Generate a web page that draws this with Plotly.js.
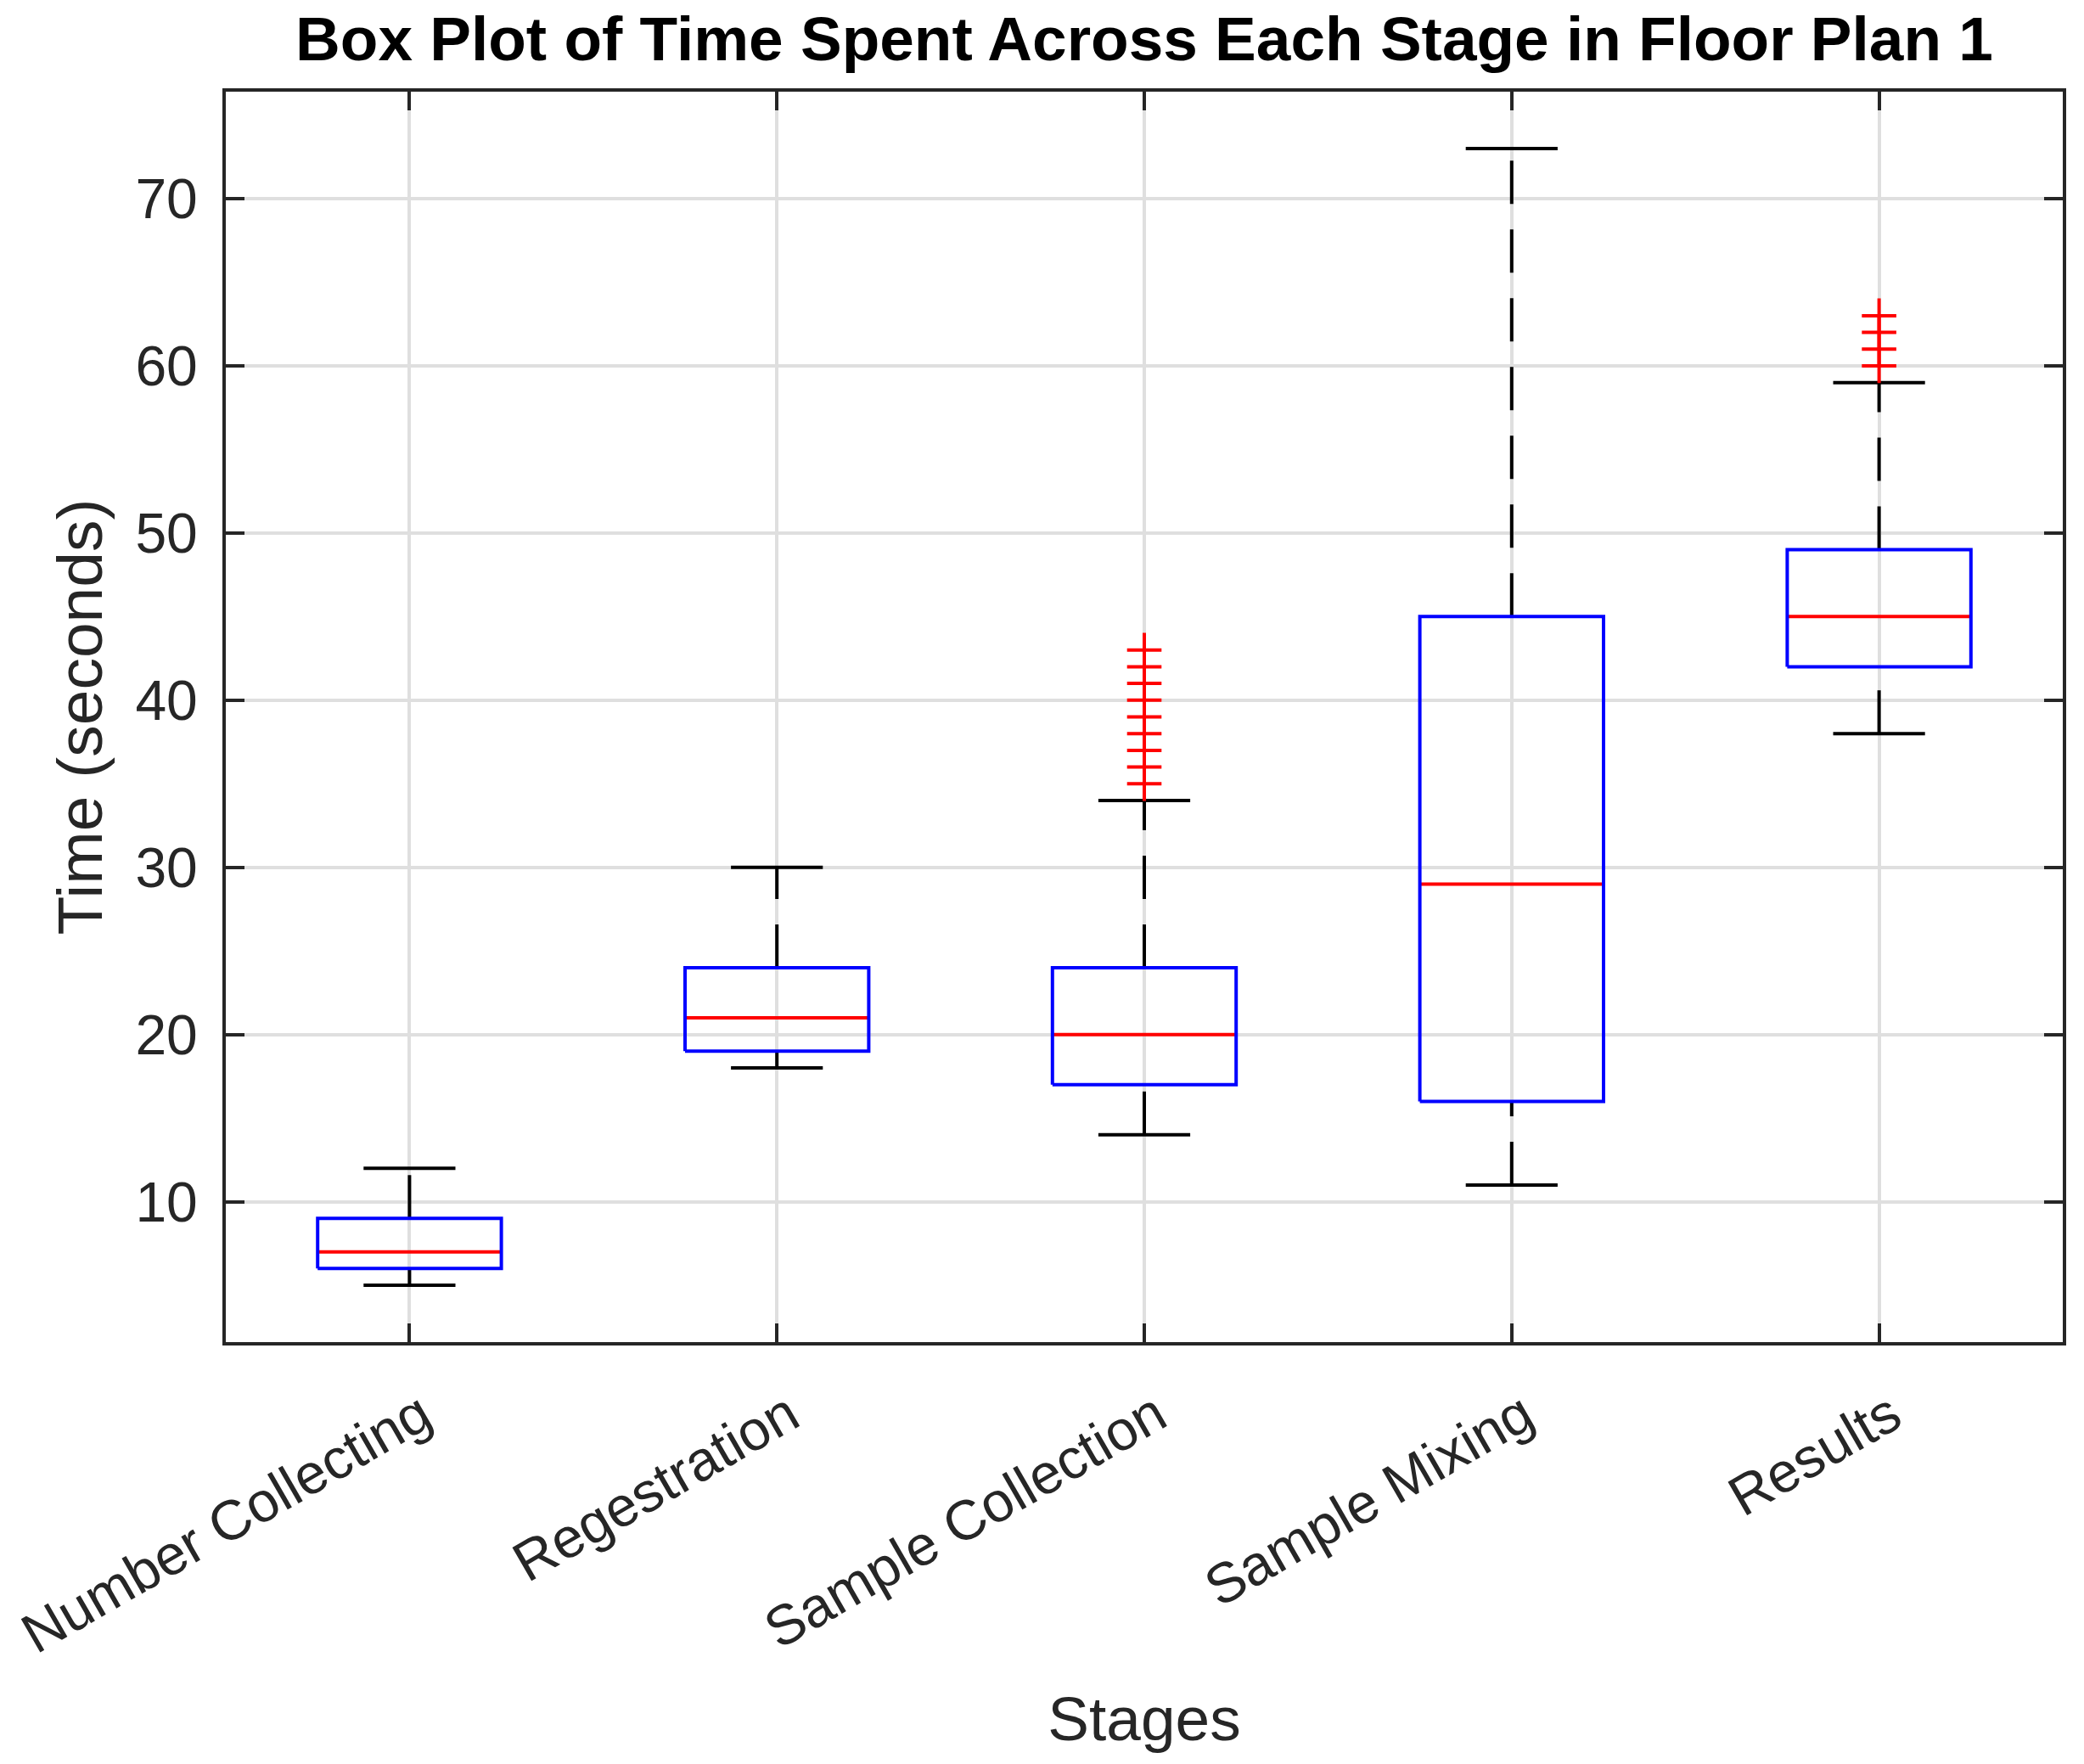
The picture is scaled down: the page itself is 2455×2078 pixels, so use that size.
<!DOCTYPE html>
<html>
<head>
<meta charset="utf-8">
<script src="https://cdn.plot.ly/plotly-3.0.1.min.js"></script>
<style>html,body{margin:0;padding:0;background:#fff;}</style>
</head>
<body>
<div id="chart" style="width:2455px;height:2078px;"></div>
<script>
// ---- Data ----
const categories = ['Number Collecting', 'Regestration', 'Sample Collection', 'Sample Mixing', 'Results'];
const lowerWhisker = [5, 18, 14, 11, 38];
const q1Values = [6, 19, 17, 16, 42];
const medianValues = [7, 21, 20, 29, 45];
const q3Values = [9, 24, 24, 45, 49];
const upperWhisker = [12, 30, 34, 73, 59];
const outlierValues = [[], [], [35, 36, 37, 38, 39, 40, 41, 42, 43], [], [60, 61, 62, 63]];
const yTickValues = [10, 20, 30, 40, 50, 60, 70];

// ---- Build traces ----
const boxHalf = 0.25, capHalf = 0.125;
const pos = categories.map((_, i) => i + 1);

const wx = [], wy = [], cx = [], cy = [], bx = [], by = [], mx = [], my = [], ox = [], oy = [];
pos.forEach((c, i) => {
  // upper whisker from box top to upper adjacent value
  wx.push(c, c, null); wy.push(q3Values[i], upperWhisker[i], null);
  // lower whisker from lower adjacent value to box bottom
  wx.push(c, c, null); wy.push(lowerWhisker[i], q1Values[i], null);
  // caps
  cx.push(c - capHalf, c + capHalf, null); cy.push(upperWhisker[i], upperWhisker[i], null);
  cx.push(c - capHalf, c + capHalf, null); cy.push(lowerWhisker[i], lowerWhisker[i], null);
  // median
  mx.push(c - boxHalf, c + boxHalf, null); my.push(medianValues[i], medianValues[i], null);
  // box
  bx.push(c - boxHalf, c + boxHalf, c + boxHalf, c - boxHalf, c - boxHalf, null);
  by.push(q1Values[i], q1Values[i], q3Values[i], q3Values[i], q1Values[i], null);
  outlierValues[i].forEach(v => { ox.push(c); oy.push(v); });
});

const traces = [
  {x: wx, y: wy, mode: 'lines', line: {color: '#000000', width: 4, dash: '51px,30px'}, hoverinfo: 'skip', connectgaps: false},
  {x: cx, y: cy, mode: 'lines', line: {color: '#000000', width: 4}, hoverinfo: 'skip', connectgaps: false},
  {x: mx, y: my, mode: 'lines', line: {color: '#ff0000', width: 4}, hoverinfo: 'skip', connectgaps: false},
  {x: bx, y: by, mode: 'lines', line: {color: '#0000ff', width: 4}, hoverinfo: 'skip', connectgaps: false},
  {x: ox, y: oy, mode: 'markers', marker: {symbol: 'cross-thin-open', size: 29, color: '#ff0000', line: {color: '#ff0000', width: 4}}, hoverinfo: 'skip'}
];

const FONT = 'Liberation Sans, Arial, sans-serif';
const axisCommon = {
  ticks: 'inside', ticklen: 22, tickwidth: 4, tickcolor: '#262626',
  showline: true, linewidth: 4, linecolor: '#262626', mirror: 'ticks',
  showgrid: true, gridcolor: '#dfdfdf', gridwidth: 4, zeroline: false,
  automargin: false,
  tickfont: {family: FONT, size: 66, color: '#262626'}
};

const layout = {
  width: 2455, height: 2078,
  margin: {l: 266, r: 25, t: 108, b: 497, pad: 0},
  paper_bgcolor: '#ffffff', plot_bgcolor: '#ffffff',
  showlegend: false,
  title: {
    text: 'Box Plot of Time Spent Across Each Stage in Floor Plan 1',
    font: {family: FONT, size: 73, color: '#000000', weight: 'bold'},
    x: 0.5, xref: 'paper', xanchor: 'center',
    y: 1 - 45 / 2078, yref: 'container', yanchor: 'middle'
  },
  xaxis: Object.assign({}, axisCommon, {
    range: [0.5, 5.5], tickmode: 'array', tickvals: pos, ticktext: categories, tickangle: -30,
    ticklabelstandoff: 18, ticklabelshift: 14,
    title: {text: 'Stages', font: {family: FONT, size: 73, color: '#262626'}, standoff: 40}
  }),
  yaxis: Object.assign({}, axisCommon, {
    range: [1.6, 76.4], tickmode: 'array', tickvals: yTickValues, ticklabelstandoff: 16,
    title: {text: 'Time (seconds)', font: {family: FONT, size: 75, color: '#262626'}, standoff: 15}
  })
};

Plotly.newPlot('chart', traces, layout, {staticPlot: true, displayModeBar: false});
</script>
</body>
</html>
